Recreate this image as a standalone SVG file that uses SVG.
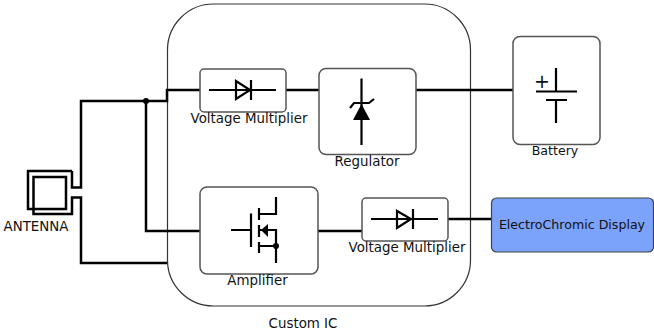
<svg xmlns="http://www.w3.org/2000/svg" width="654" height="332" viewBox="0 0 654 332">
<style>
text{font-family:"DejaVu Sans","Liberation Sans",sans-serif;font-size:13.400px;fill:#111;text-anchor:middle}
.box{fill:#fff;stroke:#555;stroke-width:1.500}
.w{fill:none;stroke:#000;stroke-width:2.500}
.s{fill:none;stroke:#000;stroke-width:2.200}
</style>
<rect width="654" height="332" fill="#fff"/>
<g id="custom-ic"><rect x="167.500" y="4" width="303" height="302" rx="46" ry="46" fill="#fff" stroke="#333" stroke-width="1.200"/><text x="303" y="328">Custom IC</text></g>
<g id="connectors">
<path class="w" d="M72 171V187.500H81V101H167V90H200"/>
<path class="w" d="M72 171H28V209H66V177H33.500V214H72V197.500H81V263H167"/>
<path class="w" d="M146 101V231H200"/>
<circle cx="146" cy="101" r="3" fill="#000"/>
<path class="w" d="M286 90H319M416 90H513M318 231H362M448 219H491"/>
</g>
<g id="antenna"><text x="36" y="231">ANTENNA</text></g>
<g id="vm1"><rect class="box" x="200" y="69" width="86" height="43" rx="4"/>
<path class="s" d="M209 90H276M236 81V99L250 90ZM251 80V100"/><text x="249" y="123">Voltage Multiplier</text></g>
<g id="regulator"><rect class="box" x="319" y="68.500" width="97" height="86" rx="7"/>
<path class="s" d="M361.500 78.500V145M350 108L354 103H369L374 99"/><path d="M353 120H370L361.500 104Z" fill="#000"/><text x="367" y="166">Regulator</text></g>
<g id="battery"><rect class="box" x="513" y="36.500" width="87" height="108" rx="7"/>
<path class="s" d="M556 68V91M536 91.500H577M546 100H567M556 100V123"/><text x="542" y="87.500" style="font-size:19px">+</text><text x="555" y="155" style="font-size:12.600px">Battery</text></g>
<g id="amplifier"><rect class="box" x="200" y="187" width="118" height="87" rx="7"/>
<path class="s" d="M231 230H251M251 213.500V247M259 208V220M259 225V237M259 242V253M259 214H276V197M259 230H276V263M259 246H276"/><path d="M261 230L268 224V237Z" fill="#000"/><circle cx="276" cy="246" r="3" fill="#000"/><text x="257.500" y="285">Amplifier</text></g>
<g id="vm2"><rect class="box" x="362" y="198" width="86" height="43" rx="4"/>
<path class="s" d="M371 219H438M397 211V228L411 219ZM413 209V229"/><text x="407" y="252">Voltage Multiplier</text></g>
<g id="display"><rect x="491.500" y="198" width="162" height="54" rx="5" fill="#7ba3fb" stroke="#444" stroke-width="1.200"/><text x="572" y="229" style="font-size:12.600px">ElectroChromic Display</text></g>
</svg>
